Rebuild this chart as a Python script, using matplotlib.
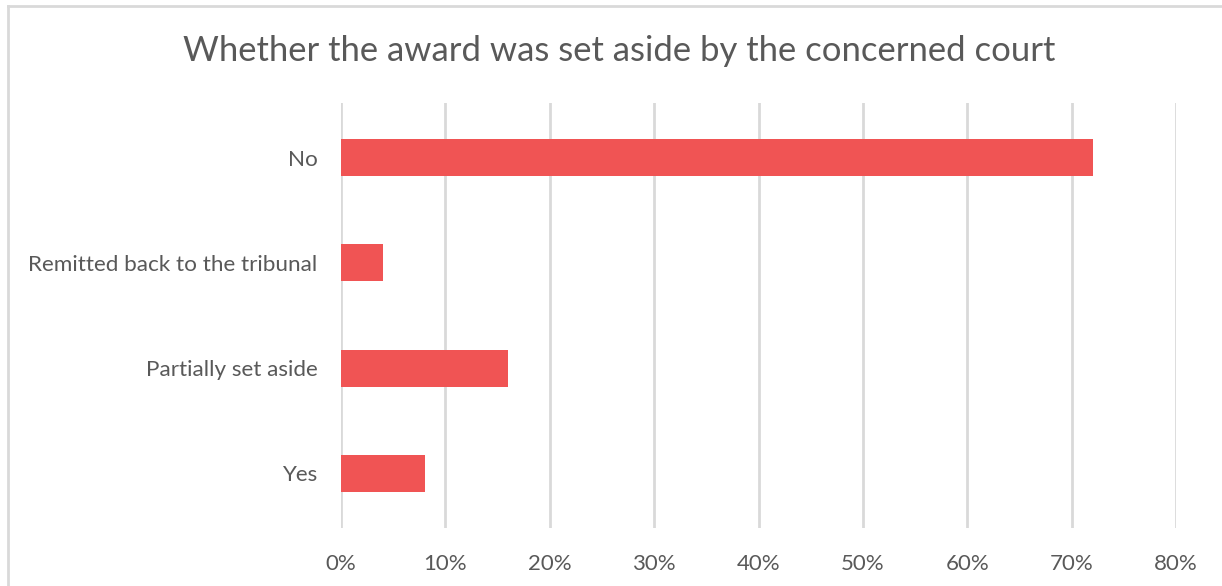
import matplotlib
matplotlib.use("Agg")
import matplotlib.pyplot as plt
from matplotlib.lines import Line2D
from matplotlib.ticker import PercentFormatter

categories = ["Yes", "Partially set aside", "Remitted back to the tribunal", "No"]
values = [8, 16, 4, 72]
xticks = [0, 10, 20, 30, 40, 50, 60, 70, 80]
title = "Whether the award was set aside by the concerned court"

plt.rcParams['font.family'] = ['Lato', 'DejaVu Sans']

fig = plt.figure(figsize=(12.22, 5.86), dpi=100)
ax = fig.add_axes([341/1222, 1-528/586, (1176-341)/1222, (528-103)/586])

ax.barh(range(len(categories)), values, height=0.35, color='#F05454', zorder=3)
ax.set_yticks(range(len(categories)))
ax.set_yticklabels(categories)
ax.set_ylim(-0.52, 3.52)
ax.set_xlim(0, 80)
ax.set_xticks(xticks)
ax.xaxis.set_major_formatter(PercentFormatter(decimals=0))
ax.grid(axis='x', color='#D9D9D9', linewidth=2, zorder=0)
for s in ax.spines.values():
    s.set_visible(False)
ax.tick_params(axis='y', length=0, colors='#595959', labelsize=16.2, pad=17)
ax.tick_params(axis='x', length=0, colors='#595959', labelsize=16, pad=19)

fig.text(0.507, 1-51/586, title, ha='center', va='center', fontsize=24.9, color='#595959')

fig.add_artist(Line2D([8/1222, 1], [1-6/586, 1-6/586], color='#D9D9D9', linewidth=2, transform=fig.transFigure))
fig.add_artist(Line2D([8/1222, 8/1222], [0, 1-6/586], color='#D9D9D9', linewidth=2, transform=fig.transFigure))

fig.savefig("out.png", dpi=100, facecolor='white')
